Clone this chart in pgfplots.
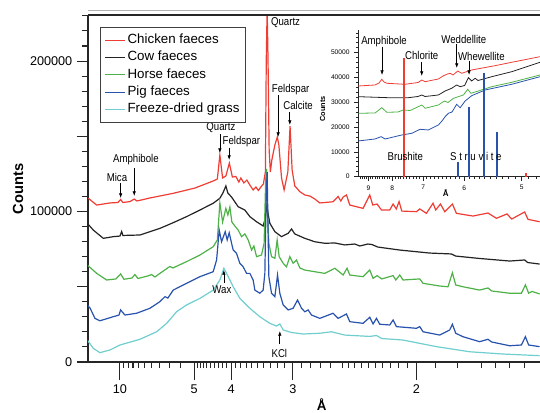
\documentclass[border=0pt]{standalone}
\usepackage{fontspec}
\setmainfont{Liberation Sans}
\newfontfamily\annfont[FakeStretch=0.85]{Liberation Sans}
\usepackage{pgfplots}
\pgfplotsset{compat=1.18}
\usetikzlibrary{arrows.meta}

\definecolor{chick}{RGB}{238,62,52}
\definecolor{cow}{RGB}{35,35,35}
\definecolor{horse}{RGB}{78,178,72}
\definecolor{pig}{RGB}{40,82,172}
\definecolor{grass}{RGB}{112,206,206}

\tikzset{ann/.style={font=\annfont\fontsize{8.5}{10}\selectfont, inner sep=0pt},
         arr/.style={-{Latex[length=3.5pt,width=2.6pt]}, line width=0.5pt}}

\begin{document}
\begin{tikzpicture}
% x is 1/d (1/Angstrom), ticks labelled with d
\begin{axis}[
    at={(0,0)}, anchor=south west,
    scale only axis, width=339pt, height=260.25pt,
    xmin=0.0569, xmax=0.6667, ymin=0, ymax=230600,
    axis x line*=bottom, axis y line*=left,
    axis line style={line width=0.9pt, black!85},
    tick align=outside,
    major tick length=8.25pt, minor tick length=4.5pt,
    every tick/.style={line width=0.8pt, black!85},
    xtick={0.1,0.2,0.25,0.33333,0.5},
    xticklabels={10,5,4,3,2},
    minor xtick={0.10526,0.11111,0.11765,0.125,0.13333,0.14286,0.15385,0.16667,0.18182,
      0.20408,0.20833,0.21277,0.21739,0.22222,0.22727,0.23256,0.2381,0.2439,
      0.25641,0.26316,0.27027,0.27778,0.28571,0.29412,0.30303,0.3125,0.32258,
      0.34483,0.35714,0.37037,0.38462,0.4,0.40816,0.41667,0.42553,0.43478,0.44444,0.45455,0.46512,0.47619,0.4878,
      0.52632,0.55556,0.58824,0.60606,0.625,0.64516},
    extra x ticks={0.1,0.2,0.25,0.33333,0.5},
    extra x tick labels={},
    extra x tick style={major tick length=13.5pt},
    xticklabel style={yshift=-5pt},
    ytick={0,50000,100000,150000,200000},
    yticklabels={0,,100000,,200000},
    minor ytick={10000,20000,...,230000},
    scaled y ticks=false,
    tick label style={font=\fontsize{9.5}{11}\selectfont},
    /pgf/number format/assume math mode=true,
    clip mode=individual,
    legend cell align=left,
    legend image code/.code={\draw[#1] (0pt,0pt) -- (15pt,0pt);},
    legend style={at={(rel axis cs:0.02655,0.9663)}, anchor=north west,
      draw=black!75, line width=0.6pt, fill=white,
      inner xsep=3pt, inner ysep=3.7pt, row sep=0.8pt,
      font=\fontsize{10}{12}\selectfont,
      nodes={inner sep=1.5pt, text height=7.2pt, text depth=2pt}},
]
\addplot[chick, line width=0.9pt] coordinates {
(0.0573,108800) (0.0686,104300) (0.0865,105700) (0.0973,106000) (0.1009,108000)
(0.1040,106000) (0.1135,106600) (0.1193,108300) (0.1229,107000) (0.1404,109000)
(0.1719,112100) (0.2011,115600) (0.2258,120300) (0.2314,121600) (0.2348,137500)
(0.2385,122300) (0.2429,123600) (0.2476,132200) (0.2517,122900) (0.2564,123300)
(0.2604,119600) (0.2631,122300) (0.2672,119000) (0.2712,120900) (0.2753,117600)
(0.2797,114300) (0.2834,116300) (0.2867,114000) (0.2901,116300) (0.2935,118300)
(0.2962,126300) (0.2974,200700) (0.2986,235000) (0.2998,200700) (0.3013,140900)
(0.3029,126300) (0.3049,134200) (0.3090,144200) (0.3123,149500) (0.3144,144200)
(0.3180,122300) (0.3215,114300) (0.3265,126300) (0.3295,156800) (0.3323,127600)
(0.3359,117000) (0.3427,113200) (0.3494,111000) (0.3562,110300) (0.3629,108300)
(0.3696,105700) (0.3876,106500) (0.3943,110000) (0.3980,107000) (0.4011,109600)
(0.4056,111000) (0.4101,104300) (0.4280,102100) (0.4370,111000) (0.4411,104300)
(0.4469,105000) (0.4528,101000) (0.4640,101000) (0.4685,105000) (0.4728,101700)
(0.4766,106600) (0.4802,100300) (0.5000,99900) (0.5045,101700) (0.5135,98800)
(0.5224,105500) (0.5260,101000) (0.5324,105000) (0.5382,99900) (0.5485,105000)
(0.5539,98800) (0.5763,97000) (0.5965,99000) (0.6079,95500) (0.6222,98400)
(0.6285,95000) (0.6460,99700) (0.6505,94800) (0.6662,93200)};
\addlegendentry{Chicken faeces}
\addplot[cow, line width=0.9pt] coordinates {
(0.0559,92200) (0.0640,87700) (0.0775,82200) (0.0910,83300) (0.1000,83700)
(0.1023,86700) (0.1040,84100) (0.1270,84400) (0.1539,88800) (0.1719,92600)
(0.1899,96600) (0.2079,101000) (0.2258,105500) (0.2348,108800) (0.2389,112300)
(0.2429,117000) (0.2456,112300) (0.2506,109600) (0.2595,103200) (0.2685,101000)
(0.2753,96600) (0.2843,93200) (0.2932,90400) (0.2962,95700) (0.2982,104300)
(0.3002,97700) (0.3022,92200) (0.3090,86600) (0.3180,83300) (0.3269,85500)
(0.3315,88400) (0.3359,85100) (0.3494,82200) (0.3629,79900) (0.3764,78900)
(0.3899,79100) (0.4033,77800) (0.4168,78400) (0.4236,77100) (0.4344,78400)
(0.4398,78100) (0.4478,76400) (0.4775,74400) (0.5180,72400) (0.5472,71800)
(0.5530,70400) (0.5853,68800) (0.6258,67100) (0.6460,67800) (0.6501,66100)
(0.6662,65100)};
\addlegendentry{Cow faeces}
\addplot[horse, line width=0.9pt] coordinates {
(0.0559,64500) (0.0686,58900) (0.0821,54500) (0.0946,55200) (0.1009,58500)
(0.1054,55000) (0.1162,55800) (0.1202,58100) (0.1243,55500) (0.1377,57200)
(0.1427,58100) (0.1472,56500) (0.1539,58900) (0.1674,63500) (0.1715,62500)
(0.1899,66700) (0.2079,71100) (0.2258,76600) (0.2314,81100) (0.2348,105700)
(0.2385,93000) (0.2429,102100) (0.2456,97700) (0.2483,103000) (0.2510,93000)
(0.2550,90400) (0.2595,87700) (0.2641,83300) (0.2685,85100) (0.2730,81100)
(0.2776,74400) (0.2807,77100) (0.2843,70000) (0.2910,71100) (0.2945,78900)
(0.2966,120900) (0.2978,128300) (0.2991,97700) (0.3009,78900) (0.3045,70000)
(0.3090,68900) (0.3121,81100) (0.3148,70000) (0.3202,65600) (0.3247,63300)
(0.3292,70000) (0.3336,65600) (0.3382,67800) (0.3427,62500) (0.3494,61100)
(0.3629,60000) (0.3764,58900) (0.3899,62300) (0.4011,57800) (0.4064,62300)
(0.4101,57800) (0.4280,56700) (0.4370,61100) (0.4415,55600) (0.4469,57400)
(0.4532,55200) (0.4685,57400) (0.4721,54500) (0.4775,57800) (0.4819,54500)
(0.5045,55200) (0.5089,52300) (0.5314,50500) (0.5426,50000) (0.5485,59300)
(0.5530,51200) (0.5628,50000) (0.5853,47800) (0.5965,49200) (0.6015,47200)
(0.6258,45700) (0.6416,45700) (0.6470,51200) (0.6514,45700) (0.6561,46900)
(0.6662,45200)};
\addlegendentry{Horse faeces}
\addplot[pig, line width=0.9pt] coordinates {
(0.0559,37900) (0.0596,35900) (0.0663,29000) (0.0730,27400) (0.0910,30100)
(0.0987,31200) (0.1009,34600) (0.1067,31200) (0.1225,32400) (0.1404,35700)
(0.1539,40100) (0.1607,43400) (0.1647,42500) (0.1719,47800) (0.1899,52300)
(0.2079,56700) (0.2258,60000) (0.2304,67800) (0.2339,87700) (0.2371,79900)
(0.2420,86600) (0.2447,81100) (0.2474,85900) (0.2506,78900) (0.2528,74400)
(0.2573,72200) (0.2618,65600) (0.2662,63300) (0.2708,58900) (0.2753,58900)
(0.2797,54500) (0.2820,47800) (0.2887,45700) (0.2932,47800) (0.2955,58900)
(0.2972,107700) (0.2986,126400) (0.2998,87700) (0.3009,56700) (0.3045,45700)
(0.3090,43400) (0.3126,57800) (0.3157,45700) (0.3202,37900) (0.3269,34600)
(0.3336,35700) (0.3396,41200) (0.3450,35700) (0.3494,33400) (0.3539,34600)
(0.3585,31200) (0.3696,29000) (0.3876,32400) (0.3943,29000) (0.4056,31900)
(0.4101,26800) (0.4280,25700) (0.4370,29700) (0.4415,25300) (0.4461,29000)
(0.4505,25100) (0.4640,24600) (0.4685,27900) (0.4730,23500) (0.5000,22400)
(0.5045,23500) (0.5089,20100) (0.5314,17900) (0.5449,21300) (0.5485,25100)
(0.5530,19100) (0.5628,16800) (0.5853,13500) (0.5965,15100) (0.6015,13300)
(0.6258,10800) (0.6416,11300) (0.6470,16800) (0.6514,11300) (0.6662,10200)};
\addlegendentry{Pig faeces}
\addplot[grass, line width=0.9pt] coordinates {
(0.0559,14600) (0.0640,9100) (0.0730,6200) (0.0865,8000) (0.1000,11300)
(0.1270,15100) (0.1495,20100) (0.1630,25700) (0.1764,33400) (0.1899,37900)
(0.2079,42300) (0.2258,47800) (0.2348,54500) (0.2402,62300) (0.2439,58900)
(0.2528,50000) (0.2618,42300) (0.2753,35700) (0.2887,30100) (0.3022,25700)
(0.3113,23900) (0.3157,25300) (0.3202,21300) (0.3315,19600) (0.3471,18600)
(0.3696,19100) (0.3854,20100) (0.4033,17900) (0.4370,17000) (0.4461,17600)
(0.4532,15600) (0.4819,14600) (0.5270,10200) (0.5719,6800) (0.6168,5300)
(0.6662,4200)};
\addlegendentry{Freeze-dried grass}

\draw[line width=0.9pt, black!85] (rel axis cs:0,1) -- (rel axis cs:1,1);
\draw[black!30, line width=0.6pt] ([yshift=3.75pt]rel axis cs:0,1) -- ([yshift=3.75pt]rel axis cs:1,1);

\node[rotate=90, font=\bfseries\fontsize{11}{13}\selectfont] at (rel axis cs:-0.1549,0.4986) {Counts};
\node[font=\bfseries\fontsize{10}{12}\selectfont] at (rel axis cs:0.517,-0.124) {Å};

% annotations
\node[ann] at (axis cs:0.09595,122930) {Mica};
\draw[arr] (axis cs:0.10094,118950) -- (axis cs:0.10094,108980);
\node[ann] at (axis cs:0.12157,134230) {Amphibole};
\draw[arr] (axis cs:0.11927,128910) -- (axis cs:0.11927,110310);
\node[ann] at (axis cs:0.23616,155490) {Quartz};
\draw[arr] (axis cs:0.23482,151510) -- (axis cs:0.23482,138880);
\node[ann] at (axis cs:0.26380,146190) {Feldspar};
\draw[arr] (axis cs:0.24735,142540) -- (axis cs:0.24735,134230);
\node[ann, anchor=west] at (axis cs:0.30357,225270) {Quartz};
\node[ann] at (axis cs:0.33027,180740) {Feldspar};
\draw[arr] (axis cs:0.31342,177420) -- (axis cs:0.31342,149510);
\node[ann] at (axis cs:0.34038,170780) {Calcite};
\draw[arr] (axis cs:0.32918,166130) -- (axis cs:0.32918,157500);
\node[ann] at (axis cs:0.23752,47840) {Wax};
\draw[arr] (axis cs:0.24021,52500) -- (axis cs:0.24021,61130);
\node[ann] at (axis cs:0.31504,5980) {KCl};
\draw[arr] (axis cs:0.31570,11960) -- (axis cs:0.31570,20600);
\end{axis}

% inset
\begin{axis}[
    at={(202.7pt,139pt)}, anchor=south west,
    scale only axis, width=136.3pt, height=110pt,
    xmin=0.10526, xmax=0.2106, ymin=0, ymax=59150,
    axis x line*=bottom, axis y line*=left,
    axis line style={line width=0.6pt, black!85},
    tick align=outside,
    major tick length=3pt, minor tick length=1.5pt,
    every tick/.style={line width=0.5pt, black!85},
    xtick={0.11111,0.125,0.14286,0.16667,0.2},
    xticklabels={9,8,7,6,5},
    minor xtick={0.10638,0.10753,0.1087,0.10989,0.11236,0.11364,0.11494,0.11628,0.11765,0.11905,
      0.12048,0.12195,0.12346,0.12658,0.12821,0.12987,0.13158,0.13333,0.13514,0.13699,0.13889,
      0.14085,0.14493,0.14706,0.14925,0.15152,0.15385,0.15625,0.15873,0.16129,0.16393,
      0.16949,0.17241,0.17544,0.17857,0.18182,0.18519,0.18868,0.19231,0.19608,0.20408,0.20833},
    ytick={0,10000,...,50000},
    minor ytick={2000,4000,...,58000},
    scaled y ticks=false,
    /pgf/number format/1000 sep={},
    /pgf/number format/assume math mode=true,
    tick label style={font=\fontsize{5}{6}\selectfont},
    clip mode=individual,
]
\addplot[chick, line width=0.6pt] coordinates {
(0.1053,36570) (0.1150,36980) (0.1173,37780) (0.1189,39270) (0.1202,38190)
(0.1218,37660) (0.1324,37260) (0.1399,37980) (0.1421,38990) (0.1440,38310)
(0.1517,39400) (0.1544,40600) (0.1565,41290) (0.1585,41690) (0.1602,41010)
(0.1629,42620) (0.1652,41690) (0.1710,43020) (0.1845,44760) (0.1942,46130)
(0.2106,48390)};
\addplot[cow, line width=0.6pt] coordinates {
(0.1053,32260) (0.1227,31850) (0.1343,31850) (0.1399,32340) (0.1421,32940)
(0.1440,32340) (0.1517,32940) (0.1556,34560) (0.1594,35650) (0.1623,36980)
(0.1643,36290) (0.1669,36770) (0.1691,39920) (0.1710,38590) (0.1730,39680)
(0.1747,38790) (0.1826,40320) (0.1942,42340) (0.2106,46130)};
\addplot[horse, line width=0.6pt] coordinates {
(0.1053,25560) (0.1150,25690) (0.1189,27820) (0.1218,25970) (0.1283,26090)
(0.1314,26900) (0.1353,26690) (0.1421,28910) (0.1440,27580) (0.1517,28910)
(0.1552,30520) (0.1573,29920) (0.1604,31610) (0.1662,32940) (0.1687,35240)
(0.1706,33630) (0.1749,34560) (0.1826,36290) (0.1942,38060) (0.2106,41010)};
\addplot[pig, line width=0.6pt] coordinates {
(0.1053,14400) (0.1150,15200) (0.1185,16130) (0.1208,15200) (0.1305,16810)
(0.1363,17500) (0.1411,19110) (0.1459,18830) (0.1517,20850) (0.1538,22460)
(0.1556,24190) (0.1575,25560) (0.1596,26090) (0.1623,29190) (0.1643,27820)
(0.1672,30520) (0.1710,32660) (0.1788,34960) (0.1942,37260) (0.2106,40320)};
% reference sticks
\addplot[ycomb, chick, line width=1.5pt] coordinates {(0.1318,47700) (0.20252,1400)};
\addplot[ycomb, pig, line width=1.5pt] coordinates {
(0.16293,6050) (0.16919,28200) (0.17817,41900) (0.18554,17900)};

\node[rotate=90, font=\bfseries\fontsize{5.5}{6}\selectfont] at (rel axis cs:-0.196,0.461) {Counts};
\node[font=\bfseries\fontsize{6}{7}\selectfont] at (rel axis cs:0.481,-0.113) {Å};

\node[ann] at (axis cs:0.12020,54400) {Amphibole};
\draw[arr] (axis cs:0.11904,52400) -- (axis cs:0.11904,41010);
\node[ann] at (axis cs:0.14206,48790) {Chlorite};
\draw[arr] (axis cs:0.14206,46250) -- (axis cs:0.14206,40600);
\node[ann] at (axis cs:0.16646,55400) {Weddellite};
\draw[arr] (axis cs:0.16235,53510) -- (axis cs:0.16235,43830);
\node[ann] at (axis cs:0.17661,48670) {Whewellite};
\draw[arr] (axis cs:0.16948,46850) -- (axis cs:0.16948,41010);
\node[ann] at (axis cs:0.13255,8060) {Brushite};
\node[ann] at (axis cs:0.17342,8060) {S t r u v i t e};
\end{axis}

\pgfresetboundingbox
\path[use as bounding box] (-66pt,-37.5pt) rectangle (339pt,271.5pt);
\end{tikzpicture}
\end{document}
